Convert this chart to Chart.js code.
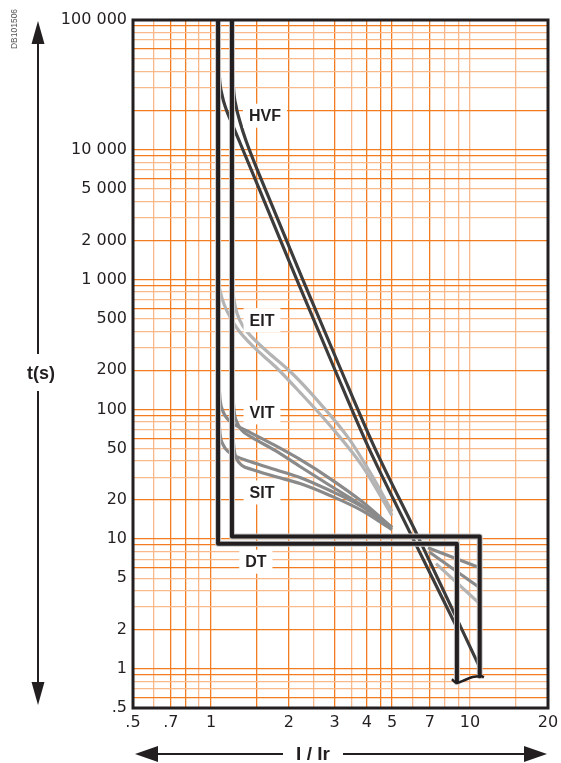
<!DOCTYPE html>
<html>
<head>
<meta charset="utf-8">
<script src="https://cdn.jsdelivr.net/npm/chart.js@4/dist/chart.umd.min.js"></script>
<style>
  html, body { margin:0; padding:0; background:#fff; }
  #wrap { width:561px; height:763px; position:relative; }
</style>
</head>
<body>
<div id="wrap"><canvas id="c"></canvas></div>
<script>
// ---------- DATA (I/Ir on x, t(s) on y) ----------
const xTickValues = [0.5,0.6,0.7,0.8,0.9,1,1.5,2,2.5,3,3.5,4,4.5,5,6,7,8,9,10,15,20];
const xDarkLines  = [0.7,0.8,1,1.5,2,3,4,4.5,5,7];
const xTickLabels = {"0.5":".5","0.7":".7","1":"1","2":"2","3":"3","4":"4","5":"5","7":"7","10":"10","20":"20"};
const yTickLabels = {"100000":"100 000","10000":"10 000","5000":"5 000","2000":"2 000","1000":"1 000",
  "500":"500","200":"200","100":"100","50":"50","20":"20","10":"10","5":"5","2":"2","1":"1","0.5":".5"};
const yDarkMantissa = [1,2,6,9];

const hvfL_x = [1.069,1.0785,1.1026,1.1427,1.2053,1.2941,1.5462,2.1478,2.958,4.038,5.971,8.909];
const hvfL_t = [54150,35970,26590,20730,15880,11330,4825,991,218.7,51.8,10.45,2.073];
const hvfR_x = [1.2106,1.2214,1.2488,1.2941,1.3655,1.631,2.2655,3.121,4.259,6.298,10.83];
const hvfR_t = [47800,30110,21870,16450,11740,4825,991,218.7,51.8,10.45,1.055];

const eitL_x = [1.0737,1.1026,1.1528,1.2603,1.4788,1.7665,2.2059,2.88,3.828,4.999];
const eitL_t = [891,719.5,571,422,295.8,214.8,135.3,75.2,36.95,15.19];
const eitR_x = [1.2106,1.227,1.2603,1.329,1.4396,1.66,2.0545,2.635,3.38,4.184,4.999];
const eitR_t = [860,694.5,551,437.4,359.7,275.5,189.7,111.3,60.8,30.9,16.31];
const eitTail_x = [7.39,10.9];
const eitTail_t = [6.47,3.18];

const vitL_x = [1.069,1.0833,1.1126,1.1634,1.2488,1.4143,1.7665,2.2059,2.88,3.828,4.999];
const vitL_t = [183,121.6,96.5,83.7,75.2,66.4,52.7,41.1,29.3,19.48,12.27];
const vitR_x = [1.2106,1.227,1.2603,1.3172,1.4396,1.7665,2.2059,2.88,3.828,4.999];
const vitR_t = [145.3,98.2,79.4,68.8,60.8,48.3,36.3,25.9,18.15,12.27];
const vitTail_x = [6.94,10.9];
const vitTail_t = [8.0,4.22];

const sitL_x = [1.069,1.0833,1.1126,1.1634,1.2488,1.4143,1.7665,2.2059,2.88,3.828,4.999];
const sitL_t = [94.8,65.3,53.7,47.4,43.4,39.7,34.4,29.9,23.7,17.8,12.27];
const sitR_x = [1.2106,1.227,1.2603,1.3172,1.4396,1.7665,2.2059,2.88,3.828,4.999];
const sitR_t = [71.3,50.0,41.1,36.95,34.4,30.4,26.8,21.7,16.6,11.84];
const sitTail_x = [6.88,10.9];
const sitTail_t = [8.6,6.03];

const dtL_x = [1.065,1.065,8.9,8.9];
const dtL_t = [100000,9.2,9.2,0.79];
const dtR_x = [1.205,1.205,10.9,10.9];
const dtR_t = [100000,10.5,10.5,0.88];
const break_x = [8.51,8.87,9.71,10.24,11.1,11.3];
const break_t = [0.833,0.784,0.833,0.868,0.878,0.857];

const curveLabels = ["HVF","EIT","VIT","SIT","DT"];
const labelX = [1.616,1.574,1.574,1.574,1.49];
const labelT = [18300,487,94.8,22.9,6.7];

// ---------- helpers ----------
const pts = (xs, ts) => xs.map((v,i)=>({x:v, y:ts[i]}));
const yTickValues = [];
for (let e = -1; e <= 4; e++) for (let m = 1; m <= 9; m++) {
  const v = +(m * Math.pow(10, e)).toPrecision(6);
  if (v >= 0.5 && v <= 100000) yTickValues.push(v);
}
yTickValues.push(100000);

const ORANGE_D = '#f47c20', ORANGE_L = '#f9b98a';
const C_HVF = '#3c3c3c', C_EIT = '#b4b4b4', C_VIT = '#8a8a8a', C_DT = '#231f20';

function line(data, color, width, order, smooth, tension) {
  const d = { data, borderColor:color, borderWidth:width, showLine:true, pointRadius:0,
           pointHoverRadius:0, fill:false, order, borderCapStyle:'butt', borderJoinStyle:'round' };
  if (smooth) d.cubicInterpolationMode = 'monotone';
  else d.tension = tension || 0;
  return d;
}

const datasets = [
  line(pts(eitL_x,eitL_t), C_EIT, 3.2, 40, true),
  line(pts(eitR_x,eitR_t), C_EIT, 3.2, 40, true),
  line(pts(eitTail_x,eitTail_t), C_EIT, 3.2, 40, false),
  line(pts(vitL_x,vitL_t), C_VIT, 3.2, 30, true),
  line(pts(vitR_x,vitR_t), C_VIT, 3.2, 30, true),
  line(pts(vitTail_x,vitTail_t), C_VIT, 3.2, 30, false),
  line(pts(sitL_x,sitL_t), C_VIT, 3.2, 30, true),
  line(pts(sitR_x,sitR_t), C_VIT, 3.2, 30, true),
  line(pts(sitTail_x,sitTail_t), C_VIT, 3.2, 30, false),
  line(pts(hvfL_x,hvfL_t), C_HVF, 3.2, 20, true),
  line(pts(hvfR_x,hvfR_t), C_HVF, 3.2, 20, true),
  line(pts(dtL_x,dtL_t), '#c8c8c8', 6, 15, false),
  line(pts(dtR_x,dtR_t), '#c8c8c8', 6, 15, false),
  line(pts(dtL_x,dtL_t), C_DT, 4, 10, false),
  line(pts(dtR_x,dtR_t), C_DT, 4, 10, false),
  line(pts(break_x,break_t), C_DT, 2.5, 10, false, 0.45),
];

const decoPlugin = {
  id:'deco',
  afterDatasetsDraw(chart) {
    const {ctx, chartArea:a, scales:{x, y}} = chart;
    ctx.save();
    ctx.font = 'bold 16px "Liberation Sans", Arial, sans-serif';
    ctx.textAlign = 'center'; ctx.textBaseline = 'middle';
    curveLabels.forEach((txt, i) => {
      const px = x.getPixelForValue(labelX[i]), py = y.getPixelForValue(labelT[i]);
      const w = ctx.measureText(txt).width;
      ctx.fillStyle = '#fff';
      ctx.fillRect(px - w/2 - 6, py - 12, w + 12, 24);
      ctx.fillStyle = '#231f20';
      ctx.fillText(txt, px, py + 1);
    });
    ctx.lineWidth = 3; ctx.strokeStyle = '#231f20';
    ctx.strokeRect(a.left, a.top, a.right - a.left, a.bottom - a.top);
    ctx.restore();
  },
  afterDraw(chart) {
    const {ctx} = chart;
    ctx.save();
    ctx.strokeStyle = '#231f20'; ctx.fillStyle = '#231f20'; ctx.lineWidth = 2;
    // vertical arrow
    const ax = 38;
    ctx.beginPath(); ctx.moveTo(ax, 43); ctx.lineTo(ax, 354);
    ctx.moveTo(ax, 391); ctx.lineTo(ax, 684); ctx.stroke();
    ctx.beginPath(); ctx.moveTo(ax, 21); ctx.lineTo(ax - 6.5, 44); ctx.lineTo(ax + 6.5, 44); ctx.closePath(); ctx.fill();
    ctx.beginPath(); ctx.moveTo(ax, 705); ctx.lineTo(ax - 6.5, 682); ctx.lineTo(ax + 6.5, 682); ctx.closePath(); ctx.fill();
    // horizontal arrow
    const ay = 754;
    ctx.beginPath(); ctx.moveTo(157, ay); ctx.lineTo(283, ay);
    ctx.moveTo(343, ay); ctx.lineTo(526, ay); ctx.stroke();
    ctx.beginPath(); ctx.moveTo(135, ay); ctx.lineTo(158, ay - 8); ctx.lineTo(158, ay + 8); ctx.closePath(); ctx.fill();
    ctx.beginPath(); ctx.moveTo(547, ay); ctx.lineTo(524, ay - 8); ctx.lineTo(524, ay + 8); ctx.closePath(); ctx.fill();
    // titles
    ctx.textAlign = 'center'; ctx.textBaseline = 'middle';
    ctx.font = 'bold 18px "Liberation Sans", Arial, sans-serif';
    ctx.fillText('t(s)', 41, 374);
    ctx.font = 'bold 19px "Liberation Sans", Arial, sans-serif';
    ctx.fillText('I / Ir', 313, 755);
    // code
    ctx.translate(15, 29); ctx.rotate(-Math.PI/2);
    ctx.font = '8.5px "Liberation Sans", Arial, sans-serif';
    ctx.fillStyle = '#555';
    ctx.fillText('DB101506', 0, 0);
    ctx.restore();
  }
};

new Chart(document.getElementById('c'), {
  type:'scatter',
  data:{ datasets },
  plugins:[decoPlugin],
  options:{
    responsive:true, maintainAspectRatio:false, animation:false,
    layout:{ padding:{ top:20, right:13, left:0, bottom:0 } },
    plugins:{ legend:{display:false}, tooltip:{enabled:false} },
    scales:{
      x:{
        type:'logarithmic', min:0.5, max:20,
        afterBuildTicks: s => { s.ticks = xTickValues.map(v => ({value:v})); },
        afterFit: s => { s.height = 55; s.paddingLeft = 0; s.paddingRight = 0; },
        ticks:{ autoSkip:false, maxRotation:0, minRotation:0, padding:5, color:'#231f20',
          font:{ family:'"DejaVu Sans", sans-serif', size:16 },
          callback: v => xTickLabels[String(v)] || '' },
        grid:{ drawTicks:false, lineWidth:1.3,
          color: c => xDarkLines.includes(c.tick && c.tick.value) ? ORANGE_D : ORANGE_L },
        border:{ display:false }
      },
      y:{
        type:'logarithmic', min:0.5, max:100000,
        afterBuildTicks: s => { s.ticks = yTickValues.map(v => ({value:v})); },
        afterFit: s => { s.width = 133; s.paddingTop = 0; s.paddingBottom = 0; },
        ticks:{ autoSkip:false, padding:6, color:'#231f20',
          font:{ family:'"DejaVu Sans", sans-serif', size:16 },
          callback: v => yTickLabels[String(v)] || '' },
        grid:{ drawTicks:false, lineWidth:1.3,
          color: c => {
            const v = c.tick && c.tick.value; if (!v) return ORANGE_L;
            const m = Math.round(v / Math.pow(10, Math.floor(Math.log10(v) + 1e-9)));
            return yDarkMantissa.includes(m) ? ORANGE_D : ORANGE_L;
          } },
        border:{ display:false }
      }
    }
  }
});
</script>
</body>
</html>
